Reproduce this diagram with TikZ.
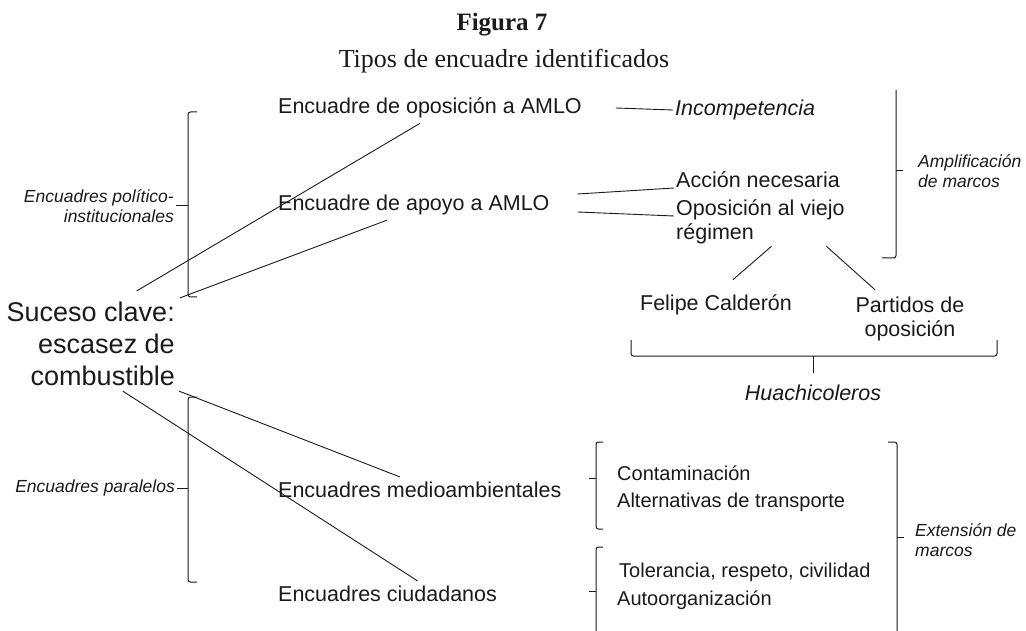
\documentclass[tikz,border=0pt]{standalone}
\usepackage{fontspec}
\setmainfont{Liberation Sans}
\newfontfamily\titlefont{Liberation Serif}
\usepackage{tikz}
\definecolor{inkgray}{HTML}{1A1A1A}

\tikzset{
  txt/.style={inner sep=2pt, text=inkgray, font=\fontsize{21.5}{24}\selectfont},
  subtxt/.style={inner sep=2pt, text=inkgray, font=\fontsize{20}{24}\selectfont},
  tag/.style={inner sep=2pt, text=inkgray, font=\fontsize{17.5}{19.5}\selectfont\itshape},
  link/.style={line width=0.9pt, draw=inkgray},
  brak/.style={line width=1pt, draw=inkgray, rounded corners=2.5pt},
}

\begin{document}
\begin{tikzpicture}[x=1pt, y=-1pt]
\useasboundingbox (0,0) rectangle (1026,631);

% title
\node[text=inkgray, font=\titlefont\fontsize{25}{28}\selectfont\bfseries] (fig) at (502,25) {Figura 7};
\node[text=inkgray, font=\titlefont\fontsize{26}{30}\selectfont] (tit) at (504,61) {Tipos de encuadre identificados};

% key event
\node[inner sep=2pt, text=inkgray, anchor=east, align=right, font=\fontsize{27}{32}\selectfont] (suceso) at (177,344) {Suceso clave:\\escasez de\\combustible};

% political frames
\node[txt, anchor=west] (opos) at (276,108) {Encuadre de oposición a AMLO};
\node[txt, anchor=west] (apoyo) at (276,205) {Encuadre de apoyo a AMLO};
\node[txt, anchor=west, font=\fontsize{21.5}{24}\selectfont\itshape] (incomp) at (673,110) {Incompetencia};
\node[txt, anchor=west] (accion) at (674,180) {Acción necesaria};
\node[txt, anchor=west, align=left] (viejo) at (674,222) {Oposición al viejo\\régimen};
\node[txt] (felipe) at (716,305) {Felipe Calderón};
\node[txt, align=center] (partidos) at (910,319) {Partidos de\\oposición};
\node[txt, font=\fontsize{21.5}{24}\selectfont\itshape] (huachi) at (813,393) {Huachicoleros};

% parallel frames
\node[txt, anchor=west] (medio) at (276,490) {Encuadres medioambientales};
\node[txt, anchor=west] (ciud) at (276,594) {Encuadres ciudadanos};
\node[subtxt, anchor=west] (conta) at (615,473) {Contaminación};
\node[subtxt, anchor=west] (altern) at (615,502) {Alternativas de transporte};
\node[subtxt, anchor=west] (toler) at (617,572) {Tolerancia, respeto, civilidad};
\node[subtxt, anchor=west] (autoorg) at (615,600) {Autoorganización};

% group labels
\node[tag, anchor=east, align=right] (polit) at (176,206) {Encuadres político-\\institucionales};
\node[tag, anchor=east] (paral) at (177,488) {Encuadres paralelos};
\node[tag, anchor=west, align=left] (ampl) at (916,171) {Amplificación\\de marcos};
\node[tag, anchor=west, align=left] (ext) at (913,540) {Extensión de\\marcos};

% connectors
\draw[link] ([xshift=46pt,yshift=9pt]suceso.north) -- ([xshift=-10pt,yshift=-3pt]opos.south);
\draw[link] ([xshift=3pt,yshift=2pt]suceso.north east) -- ([xshift=-27pt,yshift=-3pt]apoyo.south);
\draw[link] ([xshift=2pt,yshift=-3pt]suceso.south east) -- ([xshift=-20pt,yshift=3pt]medio.north);
\draw[link] ([xshift=32pt,yshift=-3pt]suceso.south) -- ([xshift=30pt,yshift=3pt]ciud.north);
\draw[link] ([xshift=32pt]opos.east) -- (incomp.west);
\draw[link] ([xshift=26pt,yshift=11pt]apoyo.east) -- ([yshift=-8pt]accion.west);
\draw[link] ([xshift=26pt,yshift=-7pt]apoyo.east) -- ([yshift=6pt]viejo.west);
\draw[link] ([xshift=11pt]viejo.south) -- ([xshift=17pt,yshift=13pt]felipe.north);
\draw[link] ([xshift=66pt]viejo.south) -- ([xshift=-35pt,yshift=5pt]partidos.north);

% brackets
\draw[brak] (197,112) -- (188,112) -- (188,297) -- (197,297);
\draw[brak] (188,206) -- (polit.east);
\draw[brak] (197,397) -- (188,397) -- (188,582) -- (197,582);
\draw[brak] (188,488) -- (paral.east);
\draw[brak] (896,90) -- (896,258) -- (882,258);
\draw[brak] (896,171) -- (903,171);
\draw[brak] (631,340) -- (631,356) -- (997,356) -- (997,340);
\draw[brak] (813,356) -- (813,373);
\draw[brak] (603,442) -- (596,442) -- (596,529) -- (603,529);
\draw[brak] (596,478) -- (589,478);
\draw[brak] (603,547) -- (596,547) -- (596,631);
\draw[brak] (596,591) -- (589,591);
\draw[brak] (888,442) -- (897,442) -- (897,631);
\draw[brak] (897,537) -- (904,537);
\end{tikzpicture}
\end{document}
